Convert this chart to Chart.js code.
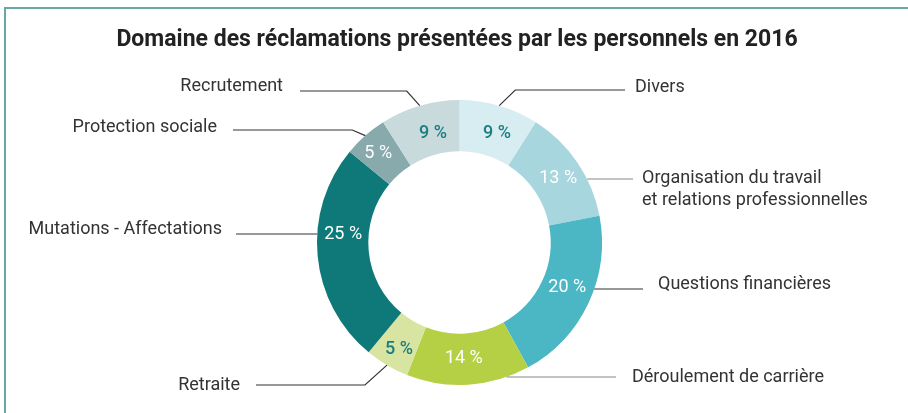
<!DOCTYPE html>
<html>
<head>
<meta charset="utf-8">
<script src="https://cdn.jsdelivr.net/npm/chart.js@4.4.0/dist/chart.umd.min.js"></script>
<style>
  html, body { margin: 0; padding: 0; background: #fff; }
  #wrap { width: 908px; height: 413px; position: relative; }
</style>
</head>
<body>
<div id="wrap"><canvas id="chart" width="908" height="413"></canvas></div>
<script>
// Data
const chartTitle = 'Domaine des réclamations présentées par les personnels en 2016';
const categories = [
    'Divers',
    'Organisation du travail\net relations professionnelles',
    'Questions financières',
    'Déroulement de carrière',
    'Retraite',
    'Mutations - Affectations',
    'Protection sociale',
    'Recrutement'
];
const values = [9, 13, 20, 14, 5, 25, 5, 9];
const sliceColors = ['#d8edf1', '#a8d6de', '#4bb7c5', '#b5d044', '#d7e4a2', '#0f797a', '#88aaad', '#c9dadd'];
const valueColors = ['#1b7f80', '#ffffff', '#ffffff', '#ffffff', '#1b7f80', '#ffffff', '#ffffff', '#1b7f80'];

// Callout layout (label text position, leader line shape, value label nudge)
// mode 'elbow': from slice mid-angle on the outer edge to an elbow, then horizontal
// mode 'flat' : horizontal line at lineY, meeting the outer edge of the ring
const callouts = [
    { side: 'right', mode: 'elbow', lineY: 90,  elbowDx: 16,  lineEnd: 625, textX: 635, textY: 87,  color: '#333', vdx: 5,  vdy: 3 },
    { side: 'right', mode: 'flat',  lineY: 179, lineEnd: 633, textX: 642, textY: 178, color: '#888', vdx: 2,  vdy: 2 },
    { side: 'right', mode: 'flat',  lineY: 289, lineEnd: 643, textX: 658, textY: 284, color: '#333', vdx: 2,  vdy: -5 },
    { side: 'right', mode: 'flat',  lineY: 377, lineEnd: 616, textX: 632, textY: 377, color: '#888', vdx: -3, vdy: -1 },
    { side: 'left',  mode: 'elbow', lineY: 385, elbowDx: -22, lineEnd: 256, textX: 240, textY: 385, color: '#333', vdx: -1, vdy: 6 },
    { side: 'left',  mode: 'flat',  lineY: 234, lineEnd: 236, textX: 222, textY: 229, color: '#333', vdx: 0,  vdy: -19 },
    { side: 'left',  mode: 'elbow', lineY: 130, elbowDx: -13, lineEnd: 233, textX: 217, textY: 127, color: '#333', vdx: -4, vdy: -1 },
    { side: 'left',  mode: 'elbow', lineY: 91,  elbowDx: -13, lineEnd: 300, textX: 283, textY: 86,  color: '#333', vdx: 6,  vdy: 3 }
];

const FONT = 'Roboto, "Open Sans", sans-serif';

// Frame, title, labels and leader lines
const calloutPlugin = {
    id: 'callouts',
    beforeDraw(chart) {
        const ctx = chart.ctx;
        ctx.save();
        ctx.strokeStyle = '#66a7a8';
        ctx.lineWidth = 2;
        ctx.beginPath();
        ctx.moveTo(5, 413);
        ctx.lineTo(5, 8);
        ctx.lineTo(908, 8);
        ctx.stroke();

        ctx.fillStyle = '#222';
        ctx.font = 'bold 23px ' + FONT;
        ctx.textAlign = 'center';
        ctx.textBaseline = 'middle';
        ctx.fillText(chartTitle, 457, 40);
        ctx.restore();
    },
    afterDatasetsDraw(chart) {
        const ctx = chart.ctx;
        const arcs = chart.getDatasetMeta(0).data;
        ctx.save();
        arcs.forEach((arc, i) => {
            const { x, y, startAngle, endAngle, innerRadius, outerRadius } = arc.getProps(['x', 'y', 'startAngle', 'endAngle', 'innerRadius', 'outerRadius'], true);
            const mid = (startAngle + endAngle) / 2;
            const c = callouts[i];

            // value inside the ring
            const rv = (innerRadius + outerRadius) / 2;
            ctx.fillStyle = valueColors[i];
            ctx.font = (valueColors[i] === '#ffffff' ? '400' : '500') + ' 18px ' + FONT;
            ctx.textAlign = 'center';
            ctx.textBaseline = 'middle';
            ctx.fillText(values[i] + ' %', x + Math.cos(mid) * rv + c.vdx, y + Math.sin(mid) * rv + c.vdy);

            // leader line
            ctx.strokeStyle = c.color;
            ctx.lineWidth = 1.2;
            ctx.beginPath();
            if (c.mode === 'elbow') {
                const ax = x + Math.cos(mid) * outerRadius;
                const ay = y + Math.sin(mid) * outerRadius;
                ctx.moveTo(ax, ay);
                ctx.lineTo(ax + c.elbowDx, c.lineY);
                ctx.lineTo(c.lineEnd, c.lineY);
            } else {
                const dy = c.lineY - y;
                const dx = Math.sqrt(Math.max(0, outerRadius * outerRadius - dy * dy));
                const ax = c.side === 'right' ? x + dx : x - dx;
                ctx.moveTo(ax, c.lineY);
                ctx.lineTo(c.lineEnd, c.lineY);
            }
            ctx.stroke();

            // category label
            ctx.fillStyle = '#333';
            ctx.font = '18px ' + FONT;
            ctx.textAlign = c.side === 'right' ? 'left' : 'right';
            ctx.textBaseline = 'middle';
            categories[i].split('\n').forEach((line, k) => {
                ctx.fillText(line, c.textX, c.textY + k * 22);
            });
        });
        ctx.restore();
    }
};

new Chart(document.getElementById('chart'), {
    type: 'doughnut',
    data: {
        labels: categories,
        datasets: [{
            data: values,
            backgroundColor: sliceColors,
            borderWidth: 0
        }]
    },
    options: {
        responsive: false,
        animation: false,
        cutout: '64%',
        layout: { padding: { top: 100, bottom: 28, left: 317, right: 306 } },
        plugins: {
            legend: { display: false },
            tooltip: { enabled: false },
            title: { display: false }
        }
    },
    plugins: [calloutPlugin]
});
</script>
</body>
</html>
